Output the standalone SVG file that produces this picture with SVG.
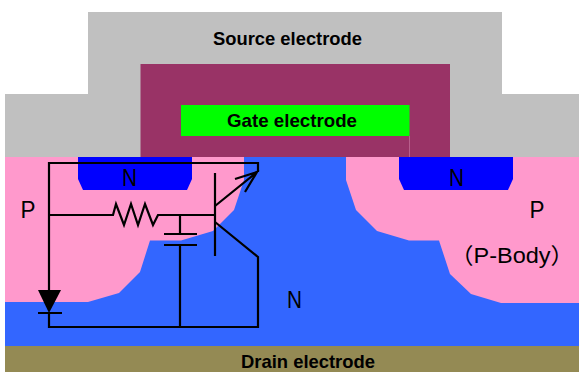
<svg xmlns="http://www.w3.org/2000/svg" width="579" height="372" viewBox="0 0 579 372">
<style>
.b{font-family:"Liberation Sans",Arial,sans-serif;font-weight:bold;font-size:19px;fill:#000}
.r{font-family:"Liberation Sans",Arial,sans-serif;font-size:23px;fill:#000}
.p{font-family:"Liberation Sans","Noto Sans CJK JP",sans-serif;font-size:22px;fill:#000}
.w{fill:none;stroke:#000;stroke-width:2.2;stroke-linejoin:miter}
</style>
<rect width="579" height="372" fill="#fff"/>
<g id="source-electrode">
<path d="M88 12H502V94H579V158H5V94H88Z" fill="#c0c0c0"/>
<text class="b" x="213" y="45" textLength="149" lengthAdjust="spacingAndGlyphs">Source electrode</text>
</g>
<g id="gate-oxide"><rect x="140.500" y="64" width="309.500" height="93" fill="#993366"/>
<path d="M409.500 136V157" stroke="#b85f8c" stroke-width="1" fill="none"/></g>
<g id="gate-electrode">
<rect x="181" y="105" width="228.500" height="31" fill="#00ff00"/>
<text class="b" x="227" y="127" textLength="130" lengthAdjust="spacingAndGlyphs">Gate electrode</text>
</g>
<g id="n-drift"><rect x="5" y="157" width="574" height="189" fill="#3366ff"/>
<text class="r" x="287" y="308" textLength="15" lengthAdjust="spacingAndGlyphs">N</text></g>
<g id="drain-electrode">
<rect x="5" y="346" width="574" height="26" fill="#948a54"/>
<text class="b" x="241" y="368" textLength="134" lengthAdjust="spacingAndGlyphs">Drain electrode</text>
</g>
<g id="p-body-left">
<path d="M5 157H244V180L234 210L213 231L181 240.500H150L140 272L119 293L88 302H5Z" fill="#ff99cc"/>
<text class="r" x="20.500" y="218" textLength="15" lengthAdjust="spacingAndGlyphs">P</text>
</g>
<g id="p-body-right">
<path d="M346 157H579V303H501L471 294L450 274L439 240.500H409L377 231L356 210L346 180Z" fill="#ff99cc"/>
<text class="r" x="529.500" y="218" textLength="15" lengthAdjust="spacingAndGlyphs">P</text>
<text class="p" x="450" y="263" textLength="124" lengthAdjust="spacingAndGlyphs">（P-Body）</text>
</g>
<g id="n-left">
<path d="M78 157H192V179L187 190H83L78 179Z" fill="#0000ff"/>
<text class="r" x="122" y="186" textLength="15" lengthAdjust="spacingAndGlyphs">N</text>
</g>
<g id="n-right">
<path d="M399 157H513V179L508 190H404L399 179Z" fill="#0000ff"/>
<text class="r" x="449" y="186" textLength="15" lengthAdjust="spacingAndGlyphs">N</text>
</g>
<g id="connectors">
<path class="w" d="M258 172V163H49V290"/>
<path d="M38 290H61L49 313Z" fill="#000"/>
<path class="w" d="M38 313H62M49 313V327H258V257L215 222"/>
<path class="w" d="M49 215H113L116 204L124 225L131 204L138 225L145 204L153 225L158 215H215"/>
<path class="w" d="M215 173V256"/>
<path class="w" d="M215 206L257 172M235 179L257 172L245 192"/>
<path class="w" d="M180 215V234M164 234H197M164 245H197M180 245V327"/>
</g>
</svg>
